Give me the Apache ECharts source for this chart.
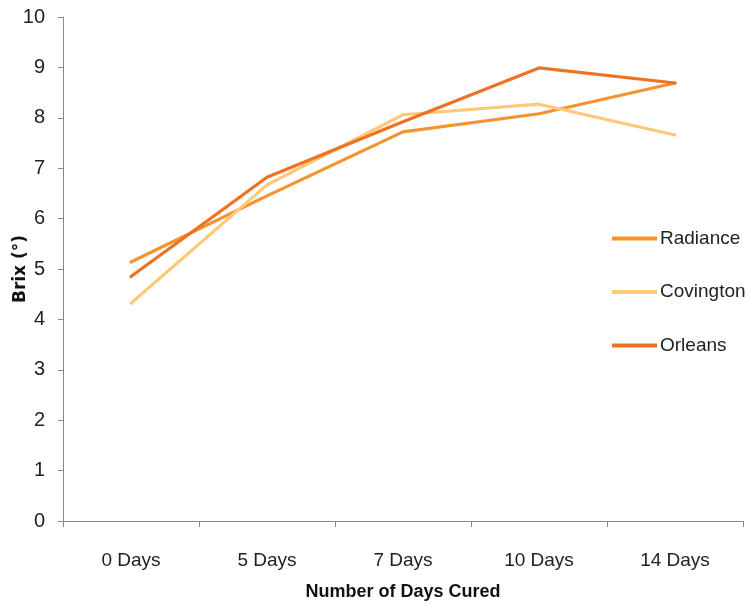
<!DOCTYPE html>
<html>
<head>
<meta charset="utf-8">
<script src="https://cdn.jsdelivr.net/npm/echarts@6/dist/echarts.min.js"></script>
<style>
  html, body { margin: 0; padding: 0; background: #fff; }
  #chart { width: 751px; height: 610px; }
</style>
</head>
<body>
<div id="chart"></div>
<script>
// Brix readings over curing time for three sweet potato cultivars
const categories = ['0 Days', '5 Days', '7 Days', '10 Days', '14 Days'];
const radiance   = [5.14, 6.45, 7.72, 8.08, 8.69];
const covington  = [4.32, 6.67, 8.06, 8.27, 7.66];
const orleans    = [4.85, 6.82, 7.92, 8.99, 8.69];
const yTicks     = [0, 1, 2, 3, 4, 5, 6, 7, 8, 9, 10];

const labelFont = '"Liberation Sans", Arial, sans-serif';
const axisGray = '#8a8a8a';

const chart = echarts.init(document.getElementById('chart'), null, { renderer: 'canvas' });

function lineSeries(name, data, color) {
  return {
    name: name,
    type: 'line',
    data: data,
    showSymbol: false,
    symbol: 'none',
    lineStyle: { color: color, width: 3.2, cap: 'round', join: 'round' },
    itemStyle: { color: color },
    emphasis: { disabled: true }
  };
}

chart.setOption({
  animation: false,
  backgroundColor: '#ffffff',
  grid: { left: 63, right: 8, top: 17, bottom: 89, containLabel: false, outerBoundsMode: 'none' },
  legend: {
    orient: 'vertical',
    left: 607,
    top: 224,
    itemWidth: 45,
    itemHeight: 4,
    itemGap: 34.5,
    icon: 'rect',
    textStyle: { fontFamily: labelFont, fontSize: 19, color: '#222', padding: [0, 0, 0, -2] },
    data: ['Radiance', 'Covington', 'Orleans']
  },
  xAxis: {
    type: 'category',
    data: categories,
    boundaryGap: true,
    name: 'Number of Days Cured',
    nameLocation: 'middle',
    nameGap: 62,
    nameMoveOverlap: false,
    nameTextStyle: { fontFamily: labelFont, fontSize: 18, fontWeight: 'bold', color: '#111' },
    axisLine: { lineStyle: { color: axisGray, width: 1 } },
    axisTick: { show: true, alignWithLabel: false, length: 6, lineStyle: { color: axisGray } },
    axisLabel: { fontFamily: labelFont, fontSize: 19, color: '#222', margin: 30 },
    splitLine: { show: false }
  },
  yAxis: {
    type: 'value',
    min: yTicks[0],
    max: yTicks[yTicks.length - 1],
    interval: 1,
    name: 'Brix (°)',
    nameLocation: 'middle',
    nameGap: 34,
    nameMoveOverlap: false,
    nameRotate: 90,
    nameTextStyle: { fontFamily: '"DejaVu Sans", sans-serif', fontSize: 17, fontWeight: 'bold', color: '#111' },
    axisLine: { show: true, lineStyle: { color: axisGray, width: 1 } },
    axisTick: { show: true, inside: false, length: 5, lineStyle: { color: axisGray } },
    axisLabel: { fontFamily: labelFont, fontSize: 20, color: '#222', margin: 18 },
    splitLine: { show: false }
  },
  series: [
    lineSeries('Radiance', radiance, '#f5932f'),
    lineSeries('Covington', covington, '#ffc97a'),
    lineSeries('Orleans', orleans, '#ef7124')
  ]
});
</script>
</body>
</html>
